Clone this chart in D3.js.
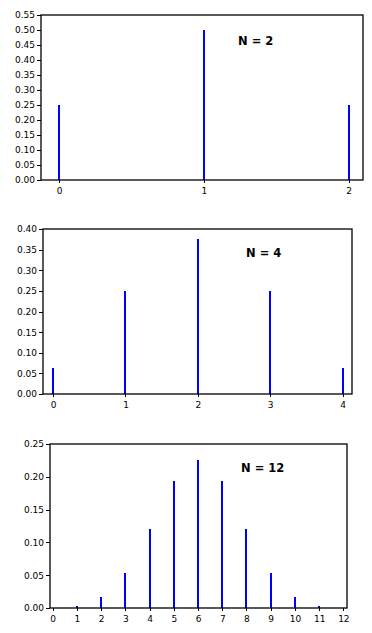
<!DOCTYPE html>
<html>
<head>
<meta charset="utf-8">
<script src="https://cdn.jsdelivr.net/npm/d3@7"></script>
<style>
  body { margin: 0; background: #fff; }
  svg { display: block; }
</style>
</head>
<body>
<div id="grafica"></div>
<script>
// values (binomial, p = 0.5)
const outcomesN2 = [0, 1, 2]
const probsN2 = [0.25, 0.5, 0.25]

const outcomesN4 = [0, 1, 2, 3, 4]
const probsN4 = [0.0625, 0.25, 0.375, 0.25, 0.0625]

const outcomesN12 = [0, 1, 2, 3, 4, 5, 6, 7, 8, 9, 10, 11, 12]
const probsN12 = [0.00024, 0.0029, 0.0161, 0.0537, 0.1208, 0.1934, 0.2256, 0.1934, 0.1208, 0.0537, 0.0161, 0.0029, 0.00024]

// y tick labels of each panel
const yTicksN2 = [0, 0.05, 0.10, 0.15, 0.20, 0.25, 0.30, 0.35, 0.40, 0.45, 0.50, 0.55]
const yTicksN4 = [0, 0.05, 0.10, 0.15, 0.20, 0.25, 0.30, 0.35, 0.40]
const yTicksN12 = [0, 0.05, 0.10, 0.15, 0.20, 0.25]

const labels = ['N = 2', 'N = 4', 'N = 12']

const width = 372
const height = 633
var barColor = '#0000ff'

const svg = d3.select('#grafica')
    .append('svg')
    .attr('width', width)
    .attr('height', height)

// frame box of each panel in pixels, x domain padded like the original plot
const paneles = [
    { outcomes: outcomesN2, probs: probsN2, yTicks: yTicksN2, yMax: 0.55, xDom: [-0.125, 2.1],
      left: 41, right: 363, top: 15, bottom: 180, label: labels[0], lx: 238, ly: 45 },
    { outcomes: outcomesN4, probs: probsN4, yTicks: yTicksN4, yMax: 0.40, xDom: [-0.14, 4.13],
      left: 43, right: 352, top: 229, bottom: 394, label: labels[1], lx: 246, ly: 257 },
    { outcomes: outcomesN12, probs: probsN12, yTicks: yTicksN12, yMax: 0.25, xDom: [-0.11, 12.15],
      left: 50, right: 347, top: 444, bottom: 608, label: labels[2], lx: 241, ly: 472 }
]

paneles.forEach(p => {
    const g = svg.append('g')

    const x = d3.scaleLinear()
        .domain(p.xDom)
        .range([p.left, p.right])

    const y = d3.scaleLinear()
        .domain([0, p.yMax])
        .range([p.bottom, p.top])

    // X axis
    const xAxis = g.append('g')
        .attr('transform', `translate(0, ${p.bottom})`)
        .call(d3.axisBottom(x)
            .tickValues(p.outcomes)
            .tickSize(3)
            .tickPadding(5)
            .tickFormat(d3.format('d')))
    xAxis.select('.domain').remove()

    // Y axis
    const yAxis = g.append('g')
        .attr('transform', `translate(${p.left}, 0)`)
        .call(d3.axisLeft(y)
            .tickValues(p.yTicks)
            .tickSize(4)
            .tickPadding(2)
            .tickFormat(d3.format('.2f')))
    yAxis.select('.domain').remove()

    g.selectAll('.tick line')
        .attr('stroke', '#000')
        .attr('shape-rendering', 'crispEdges')
    g.selectAll('.tick text')
        .attr('fill', '#000')
    xAxis.attr('font-family', 'DejaVu Sans').attr('font-size', 9)
    yAxis.attr('font-family', 'DejaVu Sans').attr('font-size', 9)

    // bars
    g.selectAll('.bar')
        .data(p.outcomes)
        .enter().append('rect')
        .attr('class', 'bar')
        .attr('x', (d, i) => x(d) - 1)
        .attr('y', (d, i) => y(p.probs[i]))
        .attr('width', 2)
        .attr('height', (d, i) => y(0) - y(p.probs[i]))
        .style('fill', barColor)
        .attr('shape-rendering', 'crispEdges')

    // frame
    g.append('rect')
        .attr('x', p.left)
        .attr('y', p.top)
        .attr('width', p.right - p.left)
        .attr('height', p.bottom - p.top)
        .attr('fill', 'none')
        .attr('stroke', '#000')
        .attr('stroke-width', 1.3)

    // N label
    g.append('text')
        .attr('x', p.lx)
        .attr('y', p.ly)
        .text(p.label)
        .style('font-family', 'DejaVu Sans')
        .style('font-weight', 'bold')
        .style('font-size', '11.5px')
        .style('fill', '#000')
})
</script>
</body>
</html>
